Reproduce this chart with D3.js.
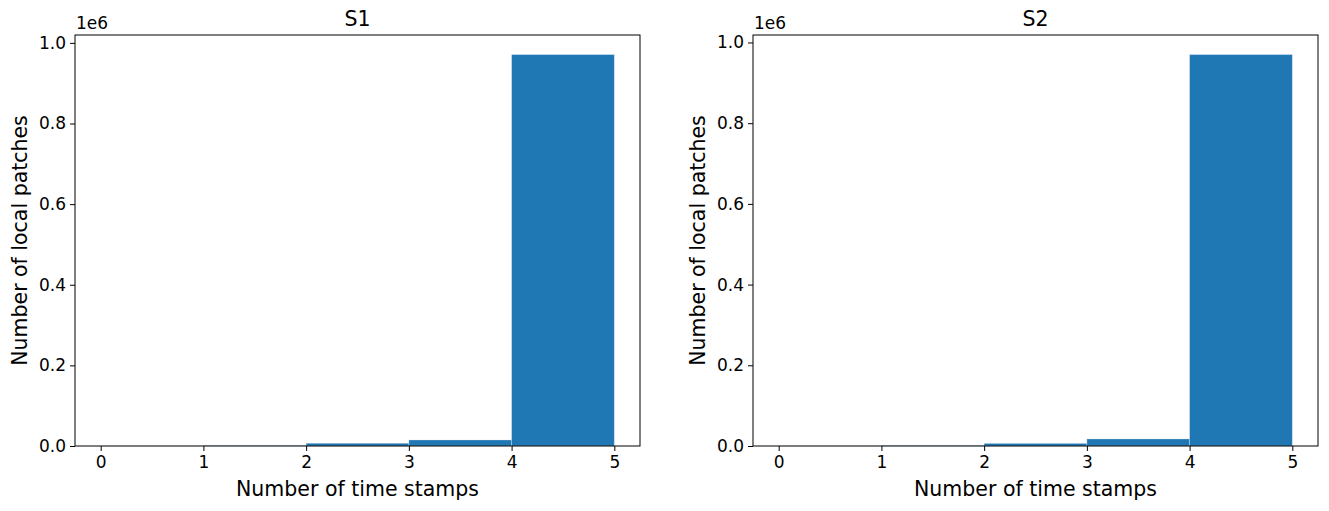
<!DOCTYPE html>
<html>
<head>
<meta charset="utf-8">
<script src="https://cdn.jsdelivr.net/npm/d3@7"></script>
<style>
  body { margin: 0; background: #fff; }
  text { font-family: "DejaVu Sans", sans-serif; fill: #000; }
</style>
</head>
<body>
<div id="viz"></div>
<script>
// histogram bins: number of time stamps
var binEdges = [0, 1, 2, 3, 4, 5];
var xTicks = [0, 1, 2, 3, 4, 5];
var yTicks = [0, 0.2, 0.4, 0.6, 0.8, 1.0];
var titles = ["S1", "S2"];
// counts per bin (in units of 1e6)
var countsS1 = [0.0002, 0.0012, 0.0068, 0.0150, 0.9710];
var countsS2 = [0.0002, 0.0012, 0.0065, 0.0175, 0.9700];
var series = [countsS1, countsS2];

var width = 1329, height = 511;
var svg = d3.select("#viz").append("svg")
  .attr("width", width)
  .attr("height", height);

var panels = [
  { left: 75, right: 640 },
  { left: 753, right: 1318 }
];
var plotTop = 35, plotBottom = 446;

panels.forEach(function(p, k) {
  var counts = series[k];
  var x = d3.scaleLinear().domain([-0.25, 5.25]).range([p.left, p.right]);
  var ymax = d3.max(counts) * 1.05;
  var y = d3.scaleLinear().domain([0, ymax]).range([plotBottom, plotTop]);

  var g = svg.append("g");

  g.selectAll("rect.bar")
    .data(counts)
    .join("rect")
    .attr("class", "bar")
    .attr("x", function(d, i) { return x(binEdges[i]); })
    .attr("width", function(d, i) { return x(binEdges[i + 1]) - x(binEdges[i]); })
    .attr("y", function(d) { return y(d); })
    .attr("height", function(d) { return plotBottom - y(d); })
    .attr("fill", "#1f77b4")
    .attr("stroke", "#ffffff")
    .attr("stroke-opacity", 0.35)
    .attr("stroke-width", 0.8);

  // y axis
  var yAxis = d3.axisLeft(y).tickValues(yTicks).tickSize(5).tickPadding(4)
    .tickFormat(d3.format(".1f"));
  var ya = g.append("g").attr("transform", "translate(" + p.left + ",0)").call(yAxis);
  ya.select(".domain").remove();
  ya.selectAll("text").style("font-size", "17px").style("font-family", "DejaVu Sans");
  ya.selectAll("line").attr("stroke", "#000").attr("stroke-width", 1);

  // x axis
  var xAxis = d3.axisBottom(x).tickValues(xTicks).tickSize(5).tickPadding(5)
    .tickFormat(d3.format("d"));
  var xa = g.append("g").attr("transform", "translate(0," + plotBottom + ")").call(xAxis);
  xa.select(".domain").remove();
  xa.selectAll("text").style("font-size", "17px").style("font-family", "DejaVu Sans");
  xa.selectAll("line").attr("stroke", "#000").attr("stroke-width", 1);

  // frame
  g.append("rect")
    .attr("x", p.left).attr("y", plotTop)
    .attr("width", p.right - p.left).attr("height", plotBottom - plotTop)
    .attr("fill", "none").attr("stroke", "#000").attr("stroke-width", 1);

  // offset text
  g.append("text")
    .attr("x", p.left + 1).attr("y", plotTop - 6)
    .style("font-size", "17px")
    .text("1e6");

  // title
  g.append("text")
    .attr("x", (p.left + p.right) / 2).attr("y", plotTop - 9)
    .attr("text-anchor", "middle")
    .style("font-size", "20.5px")
    .text(titles[k]);

  // axis labels
  g.append("text")
    .attr("x", (p.left + p.right) / 2).attr("y", plotBottom + 50)
    .attr("text-anchor", "middle")
    .style("font-size", "20.5px")
    .text("Number of time stamps");

  g.append("text")
    .attr("transform", "translate(" + (p.left - 48) + "," + ((plotTop + plotBottom) / 2) + ") rotate(-90)")
    .attr("text-anchor", "middle")
    .style("font-size", "20.5px")
    .text("Number of local patches");
});
</script>
</body>
</html>
